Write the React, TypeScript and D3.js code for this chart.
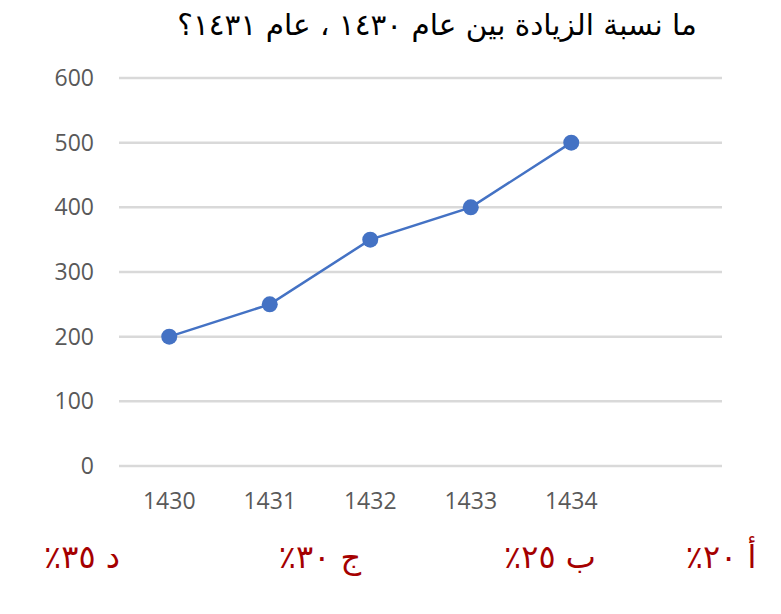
import { useEffect } from "react";
import * as d3 from "d3";

// chart data
const years = ["1430", "1431", "1432", "1433", "1434"];
const values = [200, 250, 350, 400, 500];
const yTicks = [0, 100, 200, 300, 400, 500, 600];
const title = "ما نسبة الزيادة بين عام ١٤٣٠ ، عام ١٤٣١؟";
const choices = ["أ ٢٠٪", "ب ٢٥٪", "ج ٣٠٪", "د ٣٥٪"];
const choiceX = [721, 550, 320, 82];

const W = 781;
const H = 614;

export default function App() {
  useEffect(() => {
    document.body.style.margin = "0";
  }, []);

  // one empty slot after the last year, like the source plot area
  const x = d3
    .scaleBand<string>()
    .domain([...years, "_"])
    .range([119, 722]);
  const y = d3.scaleLinear().domain([0, 600]).range([466, 78]);
  const cx = (d: string) => (x(d) ?? 0) + x.bandwidth() / 2;

  const line = d3
    .line<number>()
    .x((_, i) => cx(years[i]))
    .y((v) => y(v));

  const tickFont = "'Open Sans', sans-serif";
  const arabicFont = "'DejaVu Sans', sans-serif";

  return (
    <svg width={W} height={H} style={{ display: "block", background: "#fff" }}>
      <text
        x={437}
        y={35}
        textAnchor="middle"
        direction="rtl"
        fontFamily={arabicFont}
        fontSize={29.5}
        fill="#000"
      >
        {title}
      </text>

      {/* grid + y labels */}
      {yTicks.map((t) => (
        <g key={t}>
          <line x1={119} x2={722} y1={y(t)} y2={y(t)} stroke="#d9d9d9" strokeWidth={2.5} />
          <text
            x={94}
            y={y(t)}
            dy="0.35em"
            textAnchor="end"
            fontFamily={tickFont}
            fontSize={23}
            fill="#595959"
          >
            {t}
          </text>
        </g>
      ))}

      {/* x labels */}
      {years.map((yr) => (
        <text
          key={yr}
          x={cx(yr)}
          y={501}
          dy="0.35em"
          textAnchor="middle"
          fontFamily={tickFont}
          fontSize={23}
          fill="#595959"
        >
          {yr}
        </text>
      ))}

      <path d={line(values) ?? ""} fill="none" stroke="#4472c4" strokeWidth={2.5} />
      {values.map((v, i) => (
        <circle key={i} cx={cx(years[i])} cy={y(v)} r={8} fill="#4472c4" />
      ))}

      {/* answer choices */}
      {choices.map((c, i) => (
        <text
          key={c}
          x={choiceX[i]}
          y={568}
          textAnchor="middle"
          direction="rtl"
          fontFamily={arabicFont}
          fontSize={32}
          fill="#a50000"
        >
          {c}
        </text>
      ))}
    </svg>
  );
}
